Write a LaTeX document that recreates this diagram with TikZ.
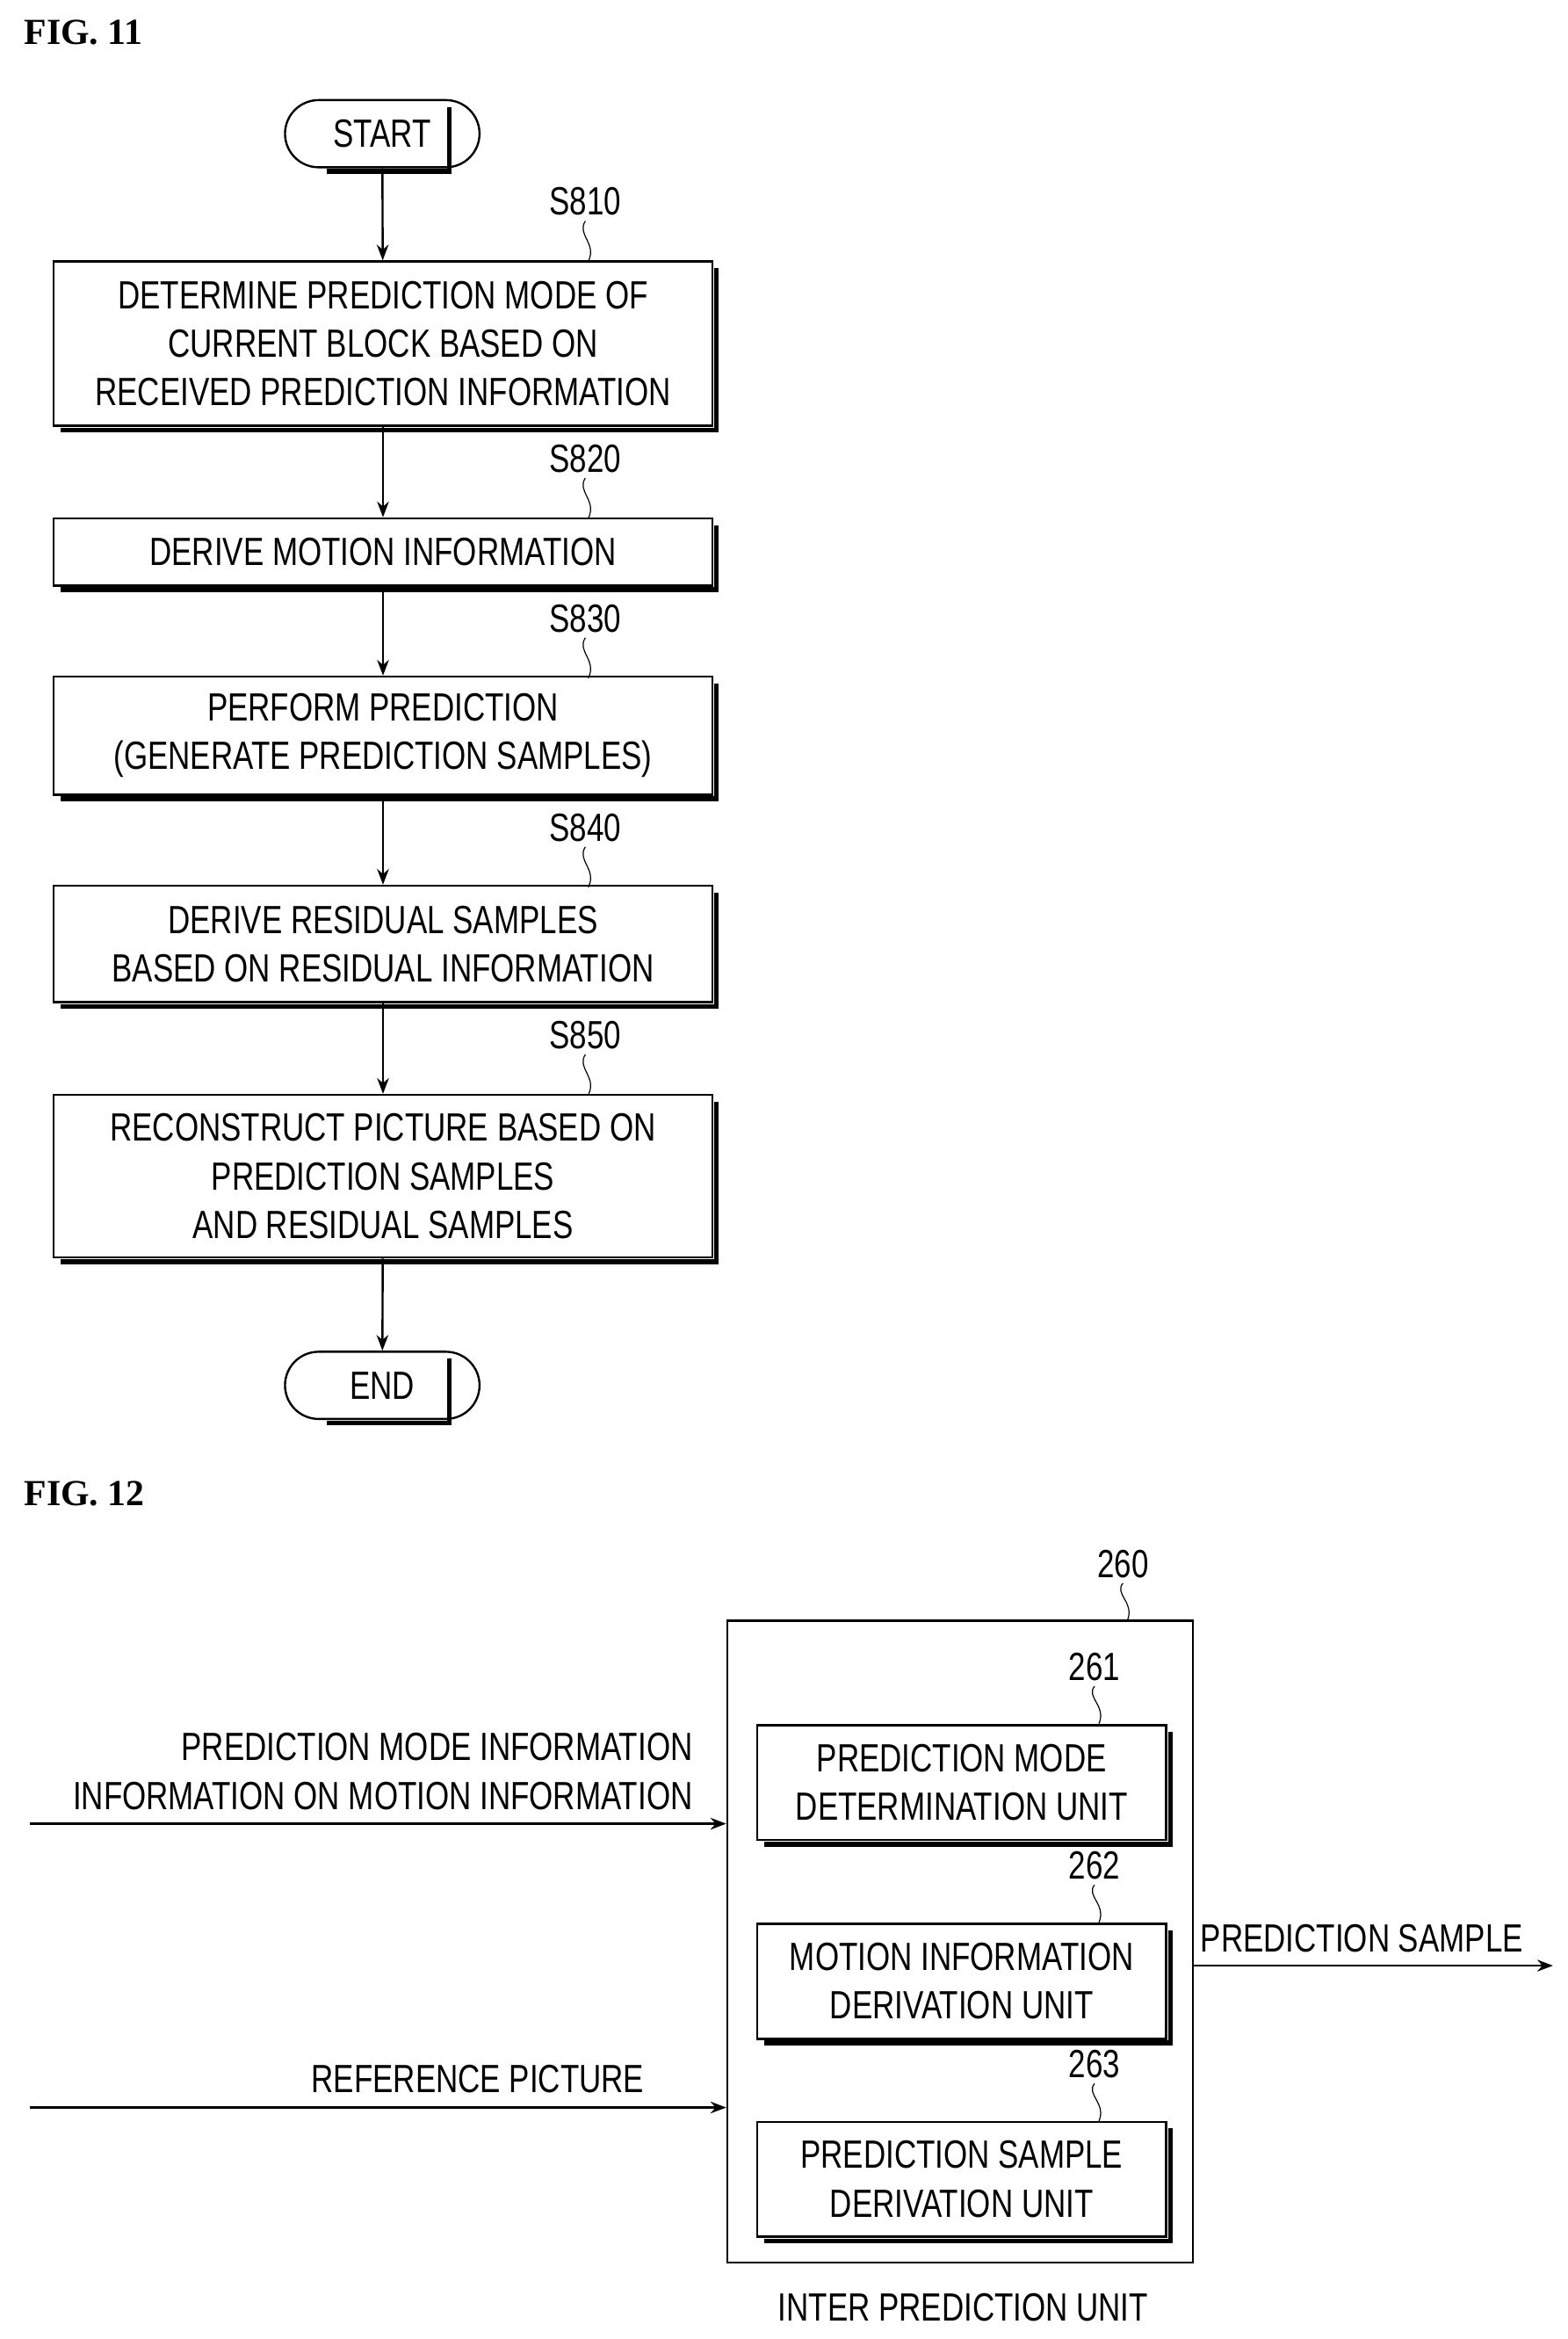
\documentclass[tikz,border=0pt]{standalone}
\usepackage{fontspec}
\setmainfont{Liberation Serif}
\setsansfont{Liberation Sans}[FakeStretch=0.78]
\usetikzlibrary{arrows.meta,shapes.misc,positioning}
\tikzset{
  proc/.style={draw,thick,minimum width=8.82cm,align=center,font=\sffamily\fontsize{15}{18.5}\selectfont},
  term/.style={draw,thick,rounded rectangle,minimum width=2.84cm,minimum height=0.9cm,font=\sffamily\fontsize{15}{18}\selectfont},
  unit/.style={draw,thick,minimum width=5.48cm,minimum height=1.54cm,align=center,font=\sffamily\fontsize{15}{18.5}\selectfont},
  lbl/.style={font=\sffamily\fontsize{15}{18.5}\selectfont},
  arrow/.style={thick,-{Stealth[length=6pt]}},
  squig/.style={thin}
}
\begin{document}
\begin{tikzpicture}[x=0.02cm,y=-0.02cm]
\useasboundingbox (0,0) rectangle (1050,1566);
% FIG. 11
\node[anchor=west,font=\bfseries\fontsize{14}{16}\selectfont] (fig11) at (10,22) {FIG. 11};
\node[term] (start) at (256,89.5) {START};
\node[proc,minimum height=2.2cm] (s810) at (256.5,230) {DETERMINE PREDICTION MODE OF\\CURRENT BLOCK BASED ON\\RECEIVED PREDICTION INFORMATION};
\node[proc,minimum height=0.9cm] (s820) at (256.5,369.5) {DERIVE MOTION INFORMATION};
\node[proc,minimum height=1.58cm] (s830) at (256.5,492.5) {PERFORM PREDICTION\\(GENERATE PREDICTION SAMPLES)};
\node[proc,minimum height=1.56cm] (s840) at (256.5,632) {DERIVE RESIDUAL SAMPLES\\BASED ON RESIDUAL INFORMATION};
\node[proc,minimum height=2.18cm] (s850) at (256.5,787.5) {RECONSTRUCT PICTURE BASED ON\\PREDICTION SAMPLES\\AND RESIDUAL SAMPLES};
\node[term] (end) at (256,927.5) {END};
\draw[arrow] (start) -- (s810);
\draw[arrow] (s810) -- (s820);
\draw[arrow] (s820) -- (s830);
\draw[arrow] (s830) -- (s840);
\draw[arrow] (s840) -- (s850);
\draw[arrow] (s850) -- (end);
% step labels
\foreach \name/\y in {S810/135,S820/307,S830/414,S840/554,S850/693}{
  \node[lbl] (l\name) at (392,\y) {\name};
  \draw[squig] (392,\y+13) .. controls (386,\y+22) and (400,\y+28) .. (394,\y+40);
}
% FIG. 12
\node[anchor=west,font=\bfseries\fontsize{14}{16}\selectfont] (fig12) at (10,1000) {FIG. 12};
\node[draw,thick,minimum width=6.24cm,minimum height=8.6cm] (u260) at (643,1300) {};
\node[unit] (u261) at (644,1193.5) {PREDICTION MODE\\DETERMINATION UNIT};
\node[unit] (u262) at (644,1326.5) {MOTION INFORMATION\\DERIVATION UNIT};
\node[unit] (u263) at (644,1459) {PREDICTION SAMPLE\\DERIVATION UNIT};
\foreach \name/\x/\y in {260/752/1047,261/733/1116,262/733/1249,263/733/1382}{
  \node[lbl] (n\name) at (\x,\y) {\name};
  \draw[squig] (\x,\y+13) .. controls (\x-6,\y+20) and (\x+8,\y+26) .. (\x+3,\y+38);
}
% shadows
\foreach \n in {start,end,s810,s820,s830,s840,s850,u261,u262,u263}{
  \draw[line width=1.8pt] ([xshift=1.2pt,yshift=-3pt]\n.north east) -- ([xshift=1.2pt,yshift=-1.2pt]\n.south east) -- ([xshift=3pt,yshift=-1.2pt]\n.south west);
}
% io
\coordinate (in1) at (20,1221);
\coordinate (in2) at (20,1411);
\coordinate (out) at (1040,1316);
\draw[arrow] (in1) -- (in1 -| u260.west);
\draw[arrow] (in2) -- (in2 -| u260.west);
\draw[arrow] (out -| u260.east) -- (out);
\node[lbl,align=right,anchor=east] (info) at (470,1186) {PREDICTION MODE INFORMATION\\INFORMATION ON MOTION INFORMATION};
\node[lbl] (refpic) at (320,1392) {REFERENCE PICTURE};
\node[lbl] (predsample) at (912,1298) {PREDICTION SAMPLE};
\node[lbl] (inter) at (645,1545) {INTER PREDICTION UNIT};
\end{tikzpicture}
\end{document}
